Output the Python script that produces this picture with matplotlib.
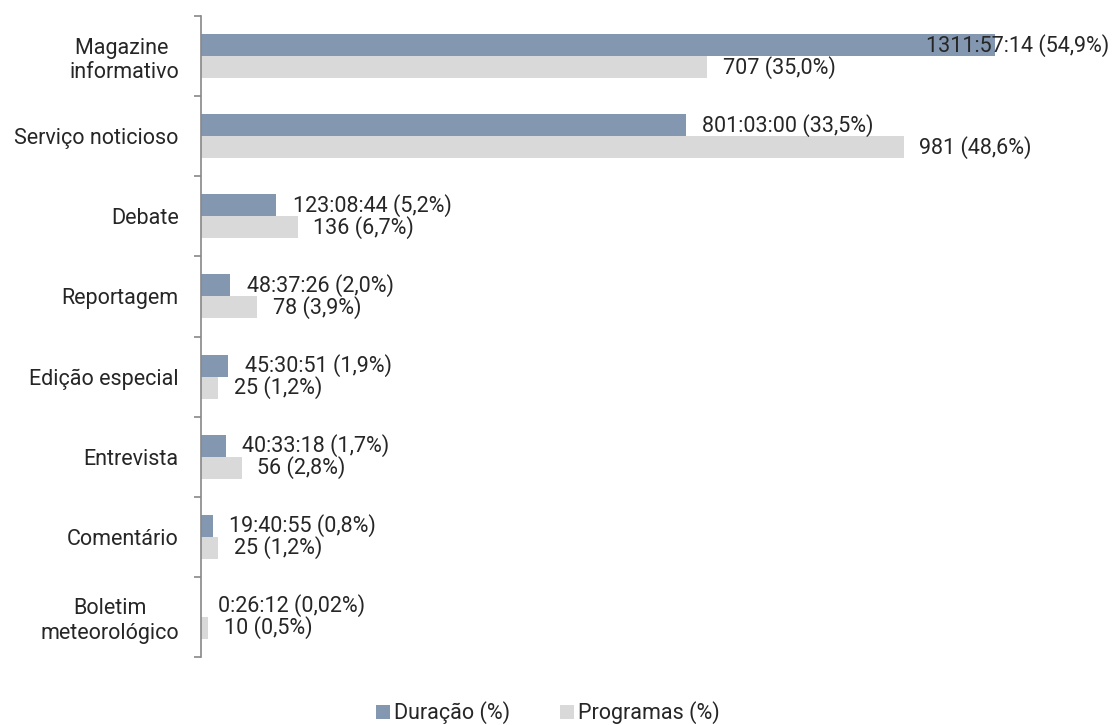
import matplotlib
matplotlib.use("Agg")
import matplotlib.pyplot as plt
import numpy as np

categories = ["Magazine \ninformativo", "Serviço noticioso", "Debate", "Reportagem",
              "Edição especial", "Entrevista", "Comentário", "Boletim\nmeteorológico"]
duracao_pct = [54.9, 33.5, 5.2, 2.0, 1.9, 1.7, 0.8, 0.02]
programas_pct = [35.0, 48.6, 6.7, 3.9, 1.2, 2.8, 1.2, 0.5]
duracao_labels = ["1311:57:14 (54,9%)", "801:03:00 (33,5%)", "123:08:44 (5,2%)",
                  "48:37:26 (2,0%)", "45:30:51 (1,9%)", "40:33:18 (1,7%)",
                  "19:40:55 (0,8%)", "0:26:12 (0,02%)"]
programas_labels = ["707 (35,0%)", "981 (48,6%)", "136 (6,7%)", "78 (3,9%)",
                    "25 (1,2%)", "56 (2,8%)", "25 (1,2%)", "10 (0,5%)"]
legend_labels = ["Duração (%)", "Programas (%)"]

FONT = "Roboto"
FS = 15.5
plt.rcParams['font.family'] = [FONT, 'DejaVu Sans']

W, H = 1112, 725
fig = plt.figure(figsize=(W / 100, H / 100), dpi=100)
ax = fig.add_axes([201 / W, 1 - 657 / H, (1069 - 201) / W, (657 - 16) / H])

n = len(categories)
y = np.arange(n)
bh = 0.275
c_dark = "#8497B0"
c_light = "#D9D9D9"
ax.barh(y - bh / 2, duracao_pct, height=bh, color=c_dark, label=legend_labels[0])
ax.barh(y + bh / 2, programas_pct, height=bh, color=c_light, label=legend_labels[1])
ax.set_xlim(0, 60)
ax.set_ylim(n - 0.5, -0.5)

texts = []
for i in range(n):
    t1 = ax.annotate(duracao_labels[i], (duracao_pct[i], y[i] - bh / 2), xytext=(12, 0),
                     textcoords="offset points", va="center", ha="left",
                     fontsize=FS, color="#262626")
    t2 = ax.annotate(programas_labels[i], (programas_pct[i], y[i] + bh / 2), xytext=(11, 0),
                     textcoords="offset points", va="center", ha="left",
                     fontsize=FS, color="#262626")
    texts += [t1, t2]

# spines / ticks
for s in ["top", "right", "bottom"]:
    ax.spines[s].set_visible(False)
ax.spines["left"].set_color("#888888")
ax.spines["left"].set_linewidth(1.2)
ax.set_xticks([])
ax.set_yticks(np.arange(n + 1) - 0.5)
ax.set_yticklabels([])
ax.tick_params(axis="y", which="major", length=5, color="#888888", width=1.2, direction="out")
ax.set_yticks(y, minor=True)
ax.set_yticklabels(categories, minor=True, fontsize=FS, color="#262626")
ax.tick_params(axis="y", which="minor", length=0, pad=16)
for lab in ax.get_yticklabels(minor=True):
    lab.set_multialignment("center")

leg = fig.legend(loc="lower center", bbox_to_anchor=(0.4925, -0.026), ncol=2, frameon=False,
                 fontsize=FS, handlelength=0.65, handleheight=0.65, handletextpad=0.2,
                 columnspacing=2.3)
for t in leg.get_texts():
    t.set_color("#262626")

# keep labels inside the figure (shift left like the original)
fig.canvas.draw()
r = fig.canvas.get_renderer()
for t in texts:
    bb = t.get_window_extent(r)
    if bb.x1 > W - 3:
        dx = bb.x1 - (W - 3)
        x0, y0 = t.xyann
        t.xyann = (x0 - dx * 72 / 100, y0)

fig.savefig("out.png", dpi=100)
